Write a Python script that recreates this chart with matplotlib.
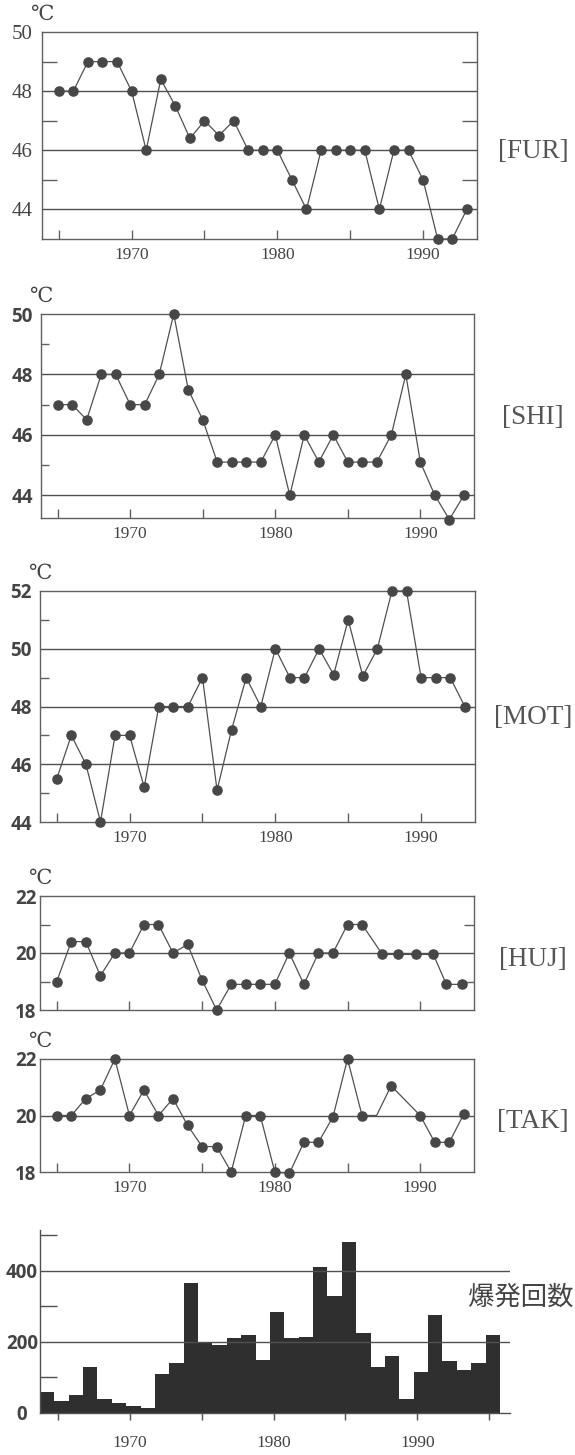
import matplotlib
matplotlib.use('Agg')
import matplotlib.pyplot as plt

# yearly values
years = list(range(1965, 1994))

fur = [48, 48, 49, 49, 49, 48, 46, 48.4, 47.5, 46.4, 47, 46.5, 47, 46, 46,
       46, 45, 44, 46, 46, 46, 46, 44, 46, 46, 45, 43, 43, 44]
shi = [47, 47, 46.5, 48, 48, 47, 47, 48, 50, 47.5, 46.5, 45.1, 45.1, 45.1, 45.1,
       46, 44, 46, 45.1, 46, 45.1, 45.1, 45.1, 46, 48, 45.1, 44, 43.2, 44]
mot = [45.5, 47, 46, 44, 47, 47, 45.2, 48, 48, 48, 49, 45.1, 47.2, 49, 48,
       50, 49, 49, 50, 49.1, 51, 49.05, 50, 52, 52, 49, 49, 49, 48]

huj_years = list(range(1965, 1987)) + [1987.4, 1988.5, 1989.7, 1990.9, 1991.8, 1992.9]
huj = [19, 20.4, 20.4, 19.2, 20, 20, 21, 21, 20, 20.3, 19.05, 18, 18.9, 18.9,
       18.9, 18.9, 20, 18.9, 20, 20, 21, 21, 19.95, 19.95, 19.95, 19.95, 18.9, 18.9]

tak_years = list(range(1965, 1989)) + [1990, 1991, 1992, 1993]
tak = [20, 20, 20.6, 20.9, 22, 20, 20.9, 20, 20.6, 19.65, 18.9, 18.9, 18, 20,
       20, 18, 17.95, 19.05, 19.05, 19.95, 22, 20, 20, 21.05, 20, 19.05, 19.05, 20.05]
tak_no_marker = [1987]

bar_years = list(range(1964, 1996))
eruptions = [60, 35, 50, 130, 40, 28, 20, 15, 110, 140, 365, 200, 190, 212, 220, 150,
             285, 210, 215, 410, 330, 480, 225, 130, 160, 40, 115, 275, 145, 120, 140, 220]

W, H = 575, 1455
INK = '#505050'
DOT = '#474747'


def px_axes(fig, left, right, top, bottom):
    return fig.add_axes([left / W, 1 - bottom / H, (right - left) / W, (bottom - top) / H])


def line_panel(ax, xs, ys, ylim, major, minor, right_ticks, minor_len, serif_y,
               ypad, show_xlabels, name, name_y, markevery=None):
    ax.plot(xs, ys, color=INK, lw=0.9, zorder=3, clip_on=False)
    ax.plot(xs, ys, 'o', color=DOT, ms=6.6, zorder=4, clip_on=False,
            markevery=markevery, linestyle='none')
    for v in major:
        if ylim[0] < v < ylim[1]:
            ax.axhline(v, color=INK, lw=1.0, zorder=1)
    ax.set_xlim(1963.85, 1993.7)
    ax.set_ylim(*ylim)
    for s in ax.spines.values():
        s.set_color('#606060')
        s.set_linewidth(1.0)

    ax.set_xticks(range(1965, 1991, 5))
    if show_xlabels:
        ax.set_xticklabels(['', '1970', '', '1980', '', '1990'])
    else:
        ax.set_xticklabels([''] * 6)
    ax.tick_params(axis='x', direction='in', length=6.5, width=1.0, color='#606060',
                   pad=6, labelsize=12.5, labelcolor='#444444')
    for t in ax.get_xticklabels():
        t.set_family('Liberation Serif')

    ax.set_yticks(major)
    ax.set_yticklabels([str(v) for v in major])
    ax.tick_params(axis='y', which='major', length=0, pad=ypad, labelcolor='#444444')
    for t in ax.get_yticklabels():
        if serif_y:
            t.set_family('Liberation Serif')
            t.set_fontsize(15)
        else:
            t.set_family('Open Sans')
            t.set_fontweight('bold')
            t.set_fontsize(13.5)
    ax.set_yticks(minor, minor=True)
    ax.tick_params(axis='y', which='minor', direction='in', length=minor_len, width=1.0,
                   color='#606060', left=True, right=right_ticks)

    ax.annotate('℃', xy=(0, 1), xycoords='axes fraction', xytext=(0, 13),
                textcoords='offset points', ha='center', va='center', fontsize=15,
                color='#444444', family=['DejaVu Serif', 'Noto Sans CJK JP'])
    fig.text(533 / W, 1 - name_y / H, name, ha='center', va='center', fontsize=19.5,
             color='#555555', family='Liberation Serif')


fig = plt.figure(figsize=(W / 100, H / 100), dpi=100)

ax1 = px_axes(fig, 42, 477, 32, 239)
line_panel(ax1, years, fur, (43, 50), [44, 46, 48, 50], [45, 47, 49], True, 11, True,
           7, True, '[FUR]', 151)

ax2 = px_axes(fig, 41, 474, 314, 518)
line_panel(ax2, years, shi, (43.25, 50), [44, 46, 48, 50], [45, 47, 49], False, 6, False,
           6, True, '[SHI]', 417)

ax3 = px_axes(fig, 40, 475, 591, 822)
line_panel(ax3, years, mot, (44, 52), [44, 46, 48, 50, 52], [45, 47, 49, 51], False, 6.5, False,
           6, True, '[MOT]', 717)

ax4 = px_axes(fig, 40, 474, 896, 1010)
line_panel(ax4, huj_years, huj, (18, 22), [18, 20, 22], [19, 21], True, 7, False,
           2.5, False, '[HUJ]', 960)

ax5 = px_axes(fig, 40, 474, 1059, 1172)
marked = [i for i, y in enumerate(tak_years) if y not in tak_no_marker]
line_panel(ax5, tak_years, tak, (18, 22), [18, 20, 22], [], False, 7, False,
           2.5, True, '[TAK]', 1121, markevery=marked)

# eruption counts
ax6 = px_axes(fig, 40, 510, 1230, 1413)
ax6.bar([y - 0.25 for y in bar_years], eruptions, width=1.0, align='edge',
        color='#2f2f2f', edgecolor='none', zorder=2)
for v in [200, 400]:
    ax6.axhline(v, color=INK, lw=1.0, zorder=3)
ax6.set_xlim(1963.75, 1996.45)
ax6.set_ylim(0, 515)
ax6.spines['top'].set_visible(False)
ax6.spines['right'].set_visible(False)
for s in ['left', 'bottom']:
    ax6.spines[s].set_color('#505050')
    ax6.spines[s].set_linewidth(1.0)
ax6.spines['bottom'].set_zorder(4)
ax6.set_xticks(range(1965, 1996, 5))
ax6.set_xticklabels(['', '1970', '', '1980', '', '1990', ''])
ax6.tick_params(axis='x', direction='out', length=5, width=1.0, color='#505050',
                pad=11, labelsize=12.5, labelcolor='#444444')
for t in ax6.get_xticklabels():
    t.set_family('Liberation Serif')
ax6.set_yticks([0, 200, 400])
ax6.set_yticklabels(['0', '200', '400'])
# labels are centred on a common column left of the axis
ax6.tick_params(axis='y', which='major', length=0, pad=13, labelcolor='#444444')
for t in ax6.get_yticklabels():
    t.set_family('Open Sans')
    t.set_fontweight('bold')
    t.set_fontsize(13.5)
    t.set_horizontalalignment('center')
ax6.set_yticks([100, 300, 500], minor=True)
ax6.tick_params(axis='y', which='minor', direction='in', length=12, width=1.0,
                color='#505050')
fig.text(521 / W, 1 - 1297 / H, '爆発回数', ha='center', va='center', fontsize=19,
         color='#444444', family=['Noto Sans CJK JP', 'DejaVu Sans'])

fig.savefig('out.png', dpi=100)
